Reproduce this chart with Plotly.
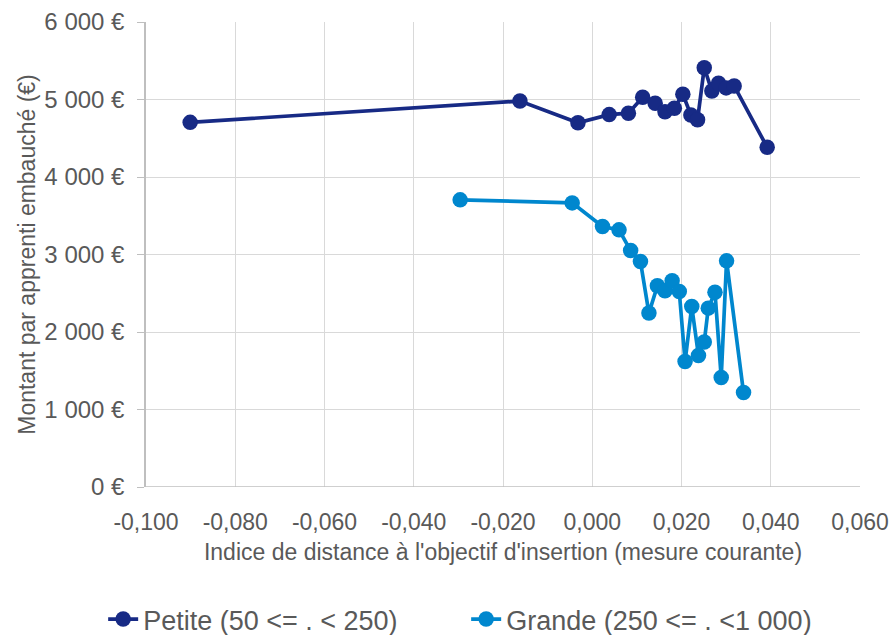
import plotly.graph_objects as go

# Petite entreprises (50 <= . < 250)
petite_x = [-0.0901, -0.0162, -0.0032, 0.0038, 0.0081, 0.0113, 0.0141, 0.0163,
            0.0184, 0.0203, 0.0221, 0.0236, 0.0251, 0.0268, 0.0283, 0.0300, 0.0318, 0.0392]
petite_y = [4705, 4980, 4700, 4805, 4823, 5029, 4952, 4843,
            4887, 5068, 4801, 4740, 5411, 5110, 5210, 5150, 5175, 4384]

# Grande entreprises (250 <= . < 1 000)
grande_x = [-0.0296, -0.0045, 0.0023, 0.0060, 0.0086, 0.0108, 0.0127, 0.0146, 0.0163,
            0.0179, 0.0195, 0.0208, 0.0223, 0.0238, 0.0251, 0.0260, 0.0275, 0.0289,
            0.0301, 0.0339]
grande_y = [3705, 3666, 3361, 3318, 3051, 2909, 2244, 2596, 2531,
            2660, 2522, 1620, 2329, 1697, 1870, 2308, 2514, 1413,
            2918, 1220]

x_ticks = [-0.10, -0.08, -0.06, -0.04, -0.02, 0.0, 0.02, 0.04, 0.06]
x_labels = ["-0,100", "-0,080", "-0,060", "-0,040", "-0,020", "0,000", "0,020", "0,040", "0,060"]
y_ticks = [0, 1000, 2000, 3000, 4000, 5000, 6000]
y_labels = ["0 €", "1 000 €", "2 000 €", "3 000 €", "4 000 €", "5 000 €", "6 000 €"]

DARK = "#172A85"
LIGHT = "#0087CE"
FONT = "Liberation Sans, Arial, sans-serif"
GREY = "#595959"

fig = go.Figure()
fig.add_trace(go.Scatter(
    x=petite_x, y=petite_y, mode="lines+markers", name="Petite (50 <= . < 250)",
    line=dict(color=DARK, width=3.7), marker=dict(color=DARK, size=15.5)))
fig.add_trace(go.Scatter(
    x=grande_x, y=grande_y, mode="lines+markers", name="Grande (250 <= . <1 000)",
    line=dict(color=LIGHT, width=3.7), marker=dict(color=LIGHT, size=15.5)))

fig.update_layout(
    width=895, height=635,
    margin=dict(l=146, r=35, t=22, b=148, autoexpand=False),
    paper_bgcolor="white", plot_bgcolor="white",
    font=dict(family=FONT, color=GREY, size=22),
    showlegend=True,
    legend=dict(orientation="h", x=-0.06, xanchor="left", y=-0.285, yanchor="middle",
                font=dict(size=27, color=GREY), itemwidth=30,
                entrywidth=318, entrywidthmode="pixels",
                traceorder="normal"),
    xaxis=dict(range=[-0.1, 0.06], tickvals=x_ticks, ticktext=x_labels,
               showgrid=True, gridcolor="#D9D9D9", gridwidth=1.3,
               zeroline=False, showline=False, ticks="",
               ticklabelstandoff=19,
               tickfont=dict(size=23, color=GREY), automargin=False,
               title=dict(text="Indice de distance à l'objectif d'insertion (mesure courante)",
                          font=dict(size=23, color=GREY), standoff=9)),
    yaxis=dict(range=[0, 6000], tickvals=y_ticks, ticktext=y_labels,
               showgrid=True, gridcolor="#D9D9D9", gridwidth=1.3,
               zeroline=False, showline=True, linecolor="#BFBFBF", linewidth=1.5,
               ticks="outside", ticklen=7, tickcolor="#BFBFBF",
               ticklabelstandoff=8,
               tickfont=dict(size=24, color=GREY), automargin=False,
               title=dict(text="Montant par apprenti embauché (€)",
                          font=dict(size=23, color=GREY), standoff=2)),
)
# bottom axis line drawn as the y=0 baseline
fig.add_shape(type="line", xref="paper", yref="y", x0=0, x1=1, y0=0, y1=0,
              line=dict(color="#BFBFBF", width=1.5))

fig.write_html("out.html")
